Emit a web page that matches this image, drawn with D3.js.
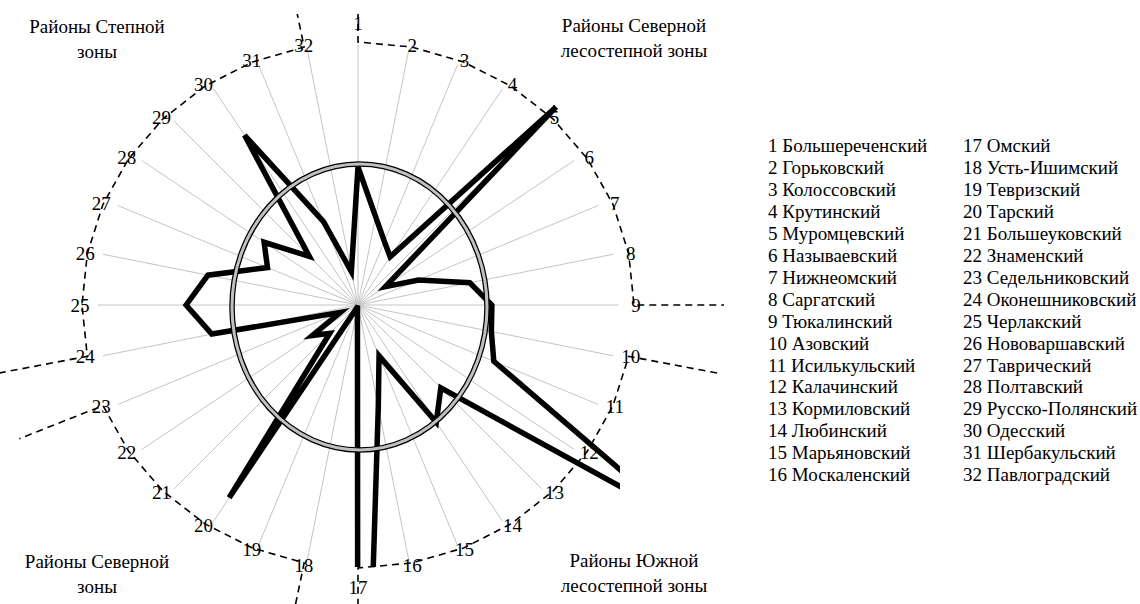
<!DOCTYPE html>
<html>
<head>
<meta charset="utf-8">
<script src="https://cdn.jsdelivr.net/npm/d3@7"></script>
<style>
body { margin: 0; background: #fff; }
svg text { font-family: "Liberation Serif", "Times New Roman", serif; fill: #000; }
</style>
</head>
<body>
<svg width="1140" height="604"></svg>
<script>
// districts, in axis order (clockwise from the top)
var districts = ["Большереченский", "Горьковский", "Колоссовский", "Крутинский",
    "Муромцевский", "Называевский", "Нижнеомский", "Саргатский", "Тюкалинский",
    "Азовский", "Исилькульский", "Калачинский", "Кормиловский", "Любинский",
    "Марьяновский", "Москаленский", "Омский", "Усть-Ишимский", "Тевризский",
    "Тарский", "Большеуковский", "Знаменский", "Седельниковский", "Оконешниковский",
    "Черлакский", "Нововаршавский", "Таврический", "Полтавский", "Русско-Полянский",
    "Одесский", "Шербакульский", "Павлоградский"];

// values (axis length = 100)
var values = [52.7, 34.4, 26.3, 22.1, 106.9, 12.6, 25.0, 43.5, 51.1, 51.9,
    56.1, 145.0, 44.7, 53.8, 21.0, 39.7, 285.0, 1.1, 1.1, 88.5,
    15.3, 21.0, 7.3, 56.9, 65.6, 58.4, 37.4, 43.1, 26.3, 77.9,
    34.4, 13.0];

// zones: first and last axis number, title lines
var zoneFirst = [1, 10, 18, 24];
var zoneLast = [9, 17, 23, 32];
var zoneTitles = [["Районы Северной", "лесостепной зоны"],
    ["Районы Южной", "лесостепной зоны"],
    ["Районы Северной", "зоны"],
    ["Районы Степной", "зоны"]];

var svg = d3.select("svg"),
    cx = 358, cy = 305, R = 262,
    n = districts.length;

var angle = d3.scaleLinear().domain([0, n]).range([0, 2 * Math.PI]);
var r = d3.scaleLinear().domain([0, 100]).range([0, R]);

var g = svg.append("g").attr("transform", "translate(" + cx + "," + cy + ")");

// spokes
g.selectAll(".spoke")
    .data(districts)
    .enter().append("line")
    .attr("class", "spoke")
    .attr("x1", 0).attr("y1", 0)
    .attr("x2", function (d, i) { return r(99.3) * Math.sin(angle(i)); })
    .attr("y2", function (d, i) { return -r(99.3) * Math.cos(angle(i)); })
    .attr("stroke", "#c4c4c4")
    .attr("stroke-width", 1);

// data polygon, clipped to the plot area like the original chart
svg.append("clipPath").attr("id", "plotclip")
    .append("rect")
    .attr("x", -R).attr("y", -R)
    .attr("width", 2 * R).attr("height", 2 * R);

var radar = d3.lineRadial()
    .angle(function (d, i) { return angle(i); })
    .radius(function (d) { return r(d); })
    .curve(d3.curveLinearClosed);

g.append("path")
    .datum(values)
    .attr("clip-path", "url(#plotclip)")
    .attr("d", radar)
    .attr("fill", "none")
    .attr("stroke", "#000")
    .attr("stroke-width", 5.5)
    .attr("stroke-miterlimit", 4);

// grey ring
g.append("ellipse")
    .attr("cx", 1.5).attr("cy", 2)
    .attr("rx", 127.5).attr("ry", 143)
    .attr("fill", "none")
    .attr("stroke", "#000")
    .attr("stroke-width", 5.5);
g.append("ellipse")
    .attr("cx", 1.5).attr("cy", 2)
    .attr("rx", 127.5).attr("ry", 143)
    .attr("fill", "none")
    .attr("stroke", "#c0c0c0")
    .attr("stroke-width", 3);

// dashed zone borders through the axis numbers
var ringX = 276, ringY = 263, ext = 90;
function ringPoint(i) {
    return [ringX * Math.sin(angle(i)), -ringY * Math.cos(angle(i))];
}
function extPoint(i) {
    var p = ringPoint(i), len = Math.sqrt(p[0] * p[0] + p[1] * p[1]);
    return [p[0] * (len + ext) / len, p[1] * (len + ext) / len];
}

svg.append("clipPath").attr("id", "outerclip")
    .append("rect")
    .attr("x", -cx).attr("y", 14 - cy)
    .attr("width", 1140).attr("height", 604);

var zoneLine = d3.line();
g.selectAll(".zone")
    .data(zoneFirst)
    .enter().append("path")
    .attr("class", "zone")
    .attr("clip-path", "url(#outerclip)")
    .attr("d", function (first, z) {
        var pts = [extPoint(first - 1)];
        for (var k = first - 1; k <= zoneLast[z] - 1; k++) pts.push(ringPoint(k));
        pts.push(extPoint(zoneLast[z] - 1));
        return zoneLine(pts);
    })
    .attr("fill", "none")
    .attr("stroke", "#000")
    .attr("stroke-width", 1.6)
    .attr("stroke-dasharray", "7,5");

// axis numbers
g.selectAll(".num")
    .data(districts)
    .enter().append("text")
    .attr("class", "num")
    .attr("x", function (d, i) { return ringPoint(i)[0] + 2 * Math.sin(angle(i)); })
    .attr("y", function (d, i) {
        var off = Math.abs(Math.sin(angle(i))) < 0.01 ? 19 : 2;
        return ringPoint(i)[1] - off * Math.cos(angle(i));
    })
    .attr("dy", "0.35em")
    .attr("text-anchor", "middle")
    .style("font-size", "19px")
    .text(function (d, i) { return i + 1; });

// zone titles
var titlePos = [[634, 32], [634, 567], [97, 568], [97, 33]];
zoneTitles.forEach(function (lines, z) {
    var t = svg.append("text")
        .attr("x", titlePos[z][0])
        .attr("y", titlePos[z][1])
        .attr("text-anchor", "middle")
        .style("font-size", "19px");
    lines.forEach(function (s, j) {
        t.append("tspan")
            .attr("x", titlePos[z][0])
            .attr("dy", j === 0 ? 0 : 25)
            .text(s);
    });
});

// legend, two columns
var legend = svg.append("g");
legend.selectAll("text")
    .data(districts)
    .enter().append("text")
    .attr("x", function (d, i) { return i < 16 ? 768 : 963; })
    .attr("y", function (d, i) { return 152 + (i % 16) * 21.95; })
    .style("font-size", "19px")
    .text(function (d, i) { return (i + 1) + " " + d; });
</script>
</body>
</html>
